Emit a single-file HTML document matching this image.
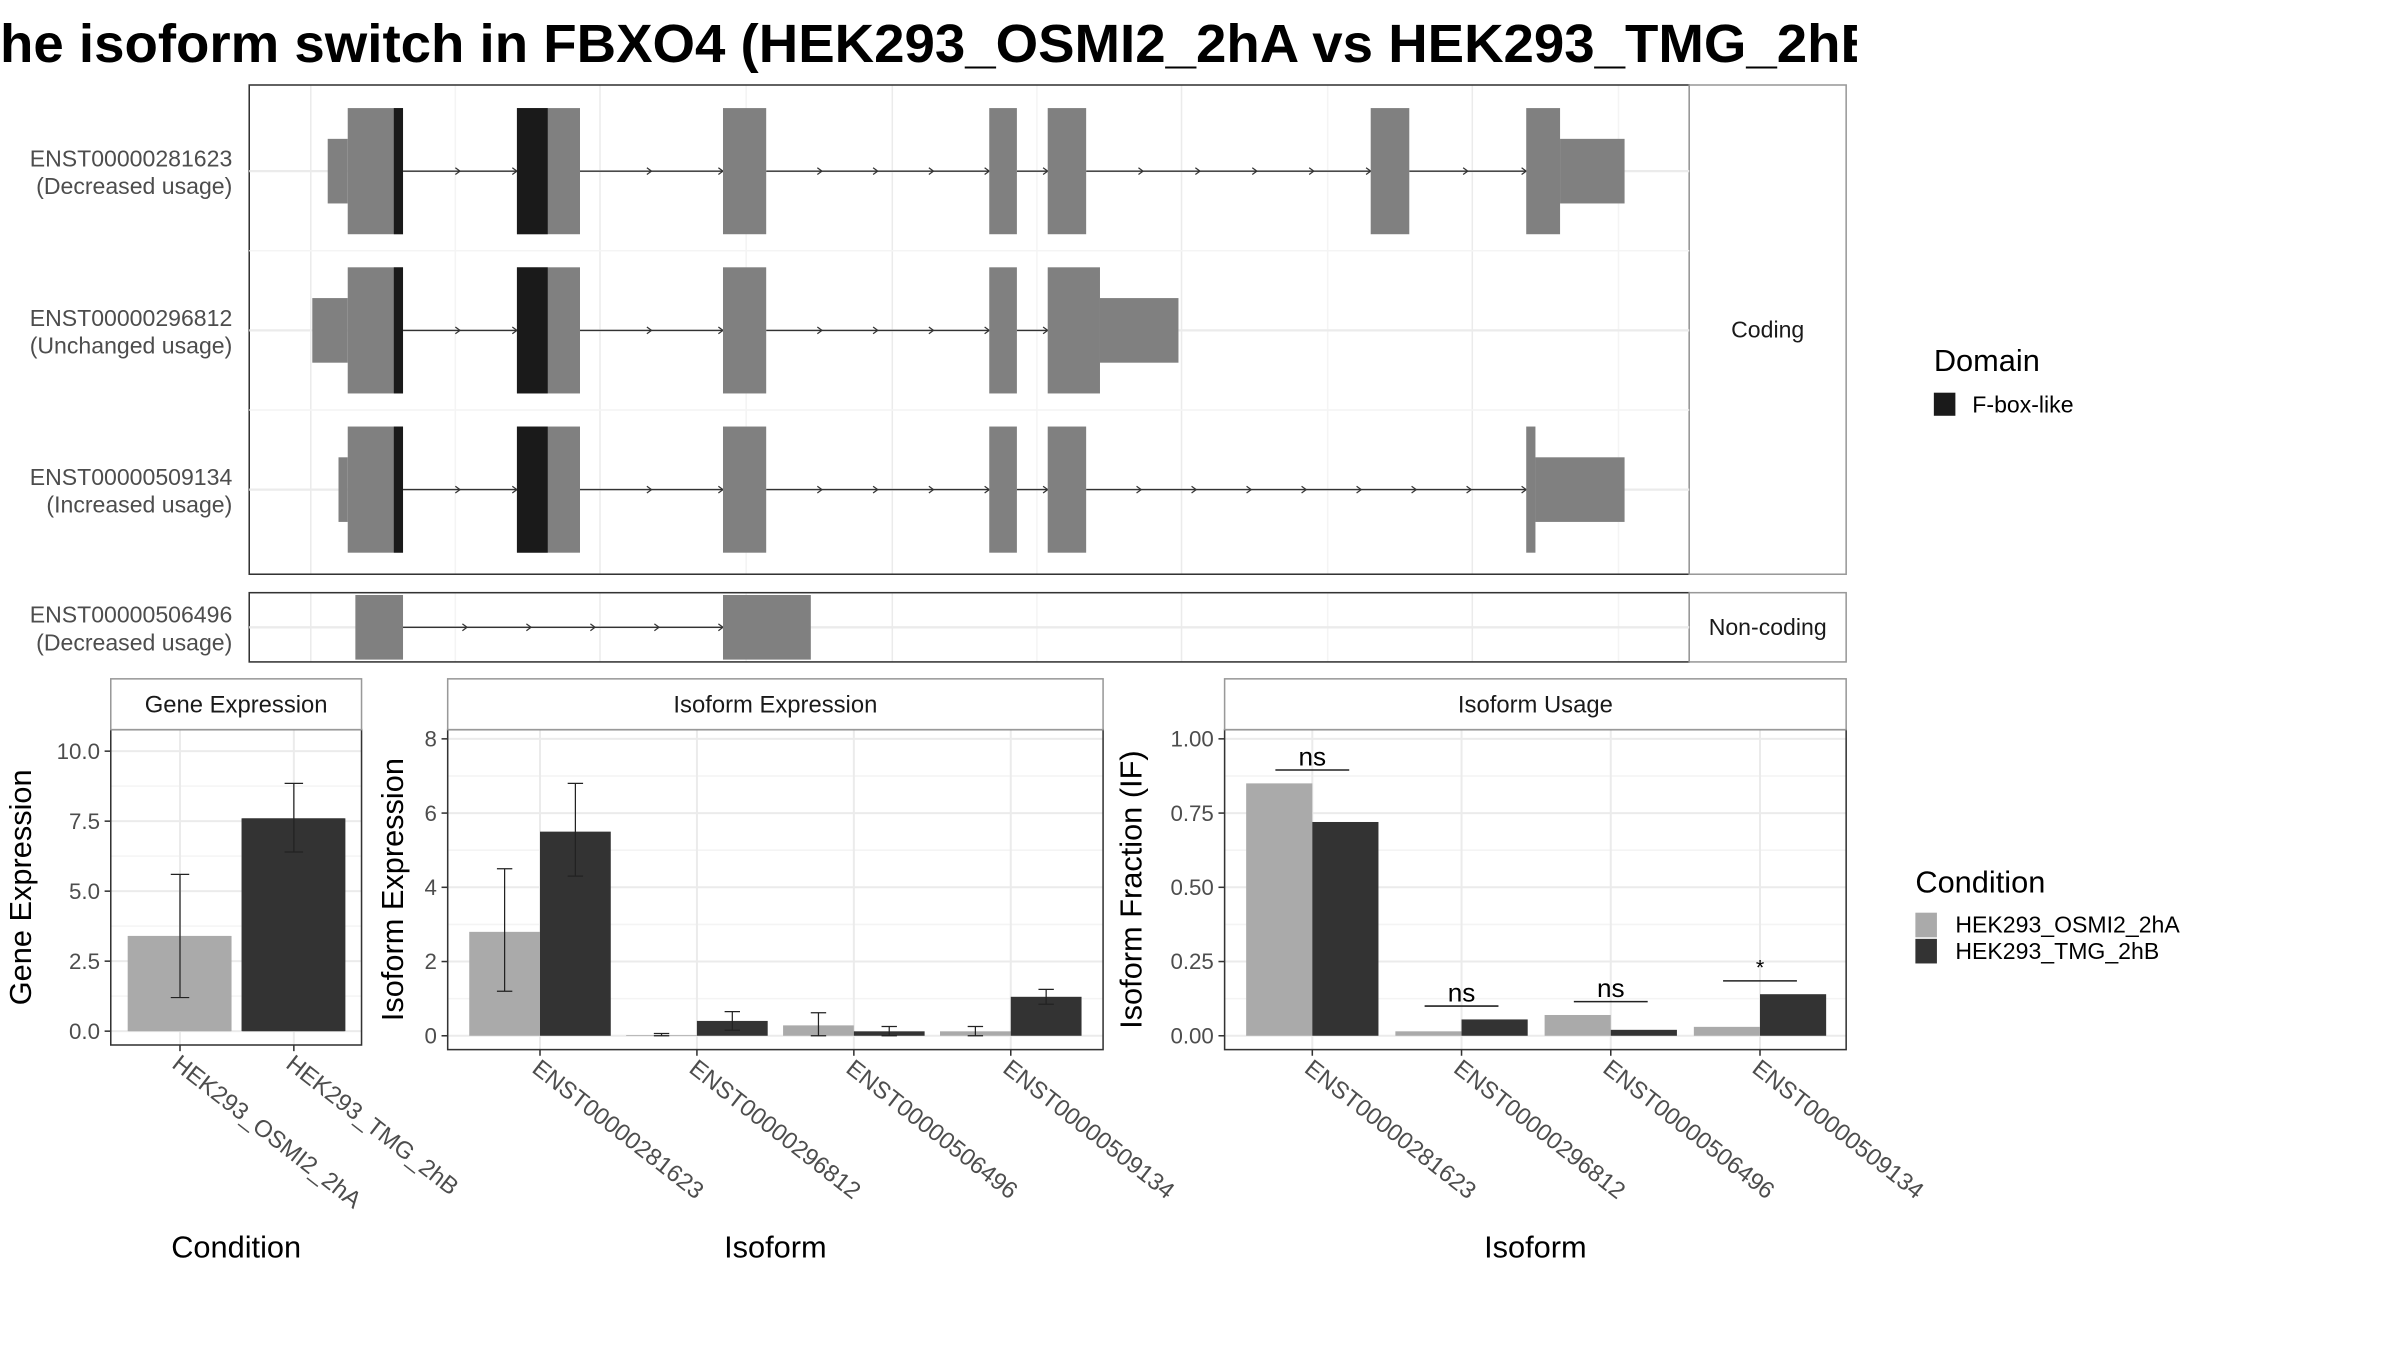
<!DOCTYPE html>
<html><head><meta charset="utf-8"><style>
html,body{margin:0;padding:0;background:#fff;}
svg{display:block;font-family:"Liberation Sans",Arial,sans-serif;}
</style></head><body>
<svg id="chart" width="2400" height="1350" viewBox="0 0 1560 877" xmlns="http://www.w3.org/2000/svg">
<defs><clipPath id="titleclip"><rect x="0" y="0" width="1207" height="60"/></clipPath></defs>
<rect x="0" y="0" width="1560" height="877" fill="#fff"/>
<text x="0" y="40" font-size="35" font-weight="bold" fill="#000" clip-path="url(#titleclip)" textLength="1222" lengthAdjust="spacingAndGlyphs">he isoform switch in FBXO4 (HEK293_OSMI2_2hA vs HEK293_TMG_2hB</text>
</svg>
<script>
// ---------- transcript structure data (genomic units) ----------
const txNames = ["ENST00000281623","ENST00000296812","ENST00000509134"];
const txUsage = ["(Decreased usage)","(Unchanged usage)","(Increased usage)"];
const txExons = [
  [[54.5,68.4,"utr"],[68.4,106.8,"cds"],[185.9,229.7,"cds"],[329,359,"cds"],[513.9,533.1,"cds"],[554.5,581.2,"cds"],[778.8,805.6,"cds"],[886.8,910.3,"cds"],[910.3,955.1,"utr"]],
  [[43.8,68.4,"utr"],[68.4,106.8,"cds"],[185.9,229.7,"cds"],[329,359,"cds"],[513.9,533.1,"cds"],[554.5,590.8,"cds"],[590.8,645.3,"utr"]],
  [[62,68.4,"utr"],[68.4,106.8,"cds"],[185.9,229.7,"cds"],[329,359,"cds"],[513.9,533.1,"cds"],[554.5,581.2,"cds"],[886.8,893.2,"cds"],[893.2,955.1,"utr"]]
];
const txDomains = [
  [[100.4,106.8],[185.9,207.3]],
  [[100.4,106.8],[185.9,207.3]],
  [[100.4,106.8],[185.9,207.3]]
];
const ncName = "ENST00000506496";
const ncUsage = "(Decreased usage)";
const ncExons = [[73.7,106.8],[329,390]];

// ---------- bar chart data ----------
const conditions = ["HEK293_OSMI2_2hA","HEK293_TMG_2hB"];
const geneExpr = [3.4, 7.6];
const geneLo = [1.2, 6.4];
const geneHi = [5.6, 8.85];
const geneTicks = ["0.0","2.5","5.0","7.5","10.0"];

const isoforms = ["ENST00000281623","ENST00000296812","ENST00000506496","ENST00000509134"];
const isoExprA = [2.8, 0.02, 0.28, 0.12];
const isoExprB = [5.5, 0.4, 0.12, 1.05];
const isoLoA = [1.2, 0.0, 0.0, 0.0];
const isoHiA = [4.5, 0.06, 0.62, 0.25];
const isoLoB = [4.3, 0.15, 0.0, 0.85];
const isoHiB = [6.8, 0.65, 0.25, 1.25];
const isoTicks = ["0","2","4","6","8"];

const usageA = [0.85, 0.015, 0.07, 0.03];
const usageB = [0.72, 0.055, 0.02, 0.14];
const sigLabels = ["ns","ns","ns","*"];
const sigLevel = [0.895, 0.1, 0.115, 0.185];
const usageTicks = ["0.00","0.25","0.50","0.75","1.00"];

const svg = document.getElementById('chart');
const NS = "http://www.w3.org/2000/svg";
function mk(tag, attrs, parent){
  const e = document.createElementNS(NS, tag);
  for (const k in attrs) e.setAttribute(k, attrs[k]);
  (parent||svg).appendChild(e);
  return e;
}
function txt(s, attrs, parent){ const e = mk('text', attrs, parent); e.textContent = s; return e; }

const LIGHT = "#AAAAAA", DARK = "#333333", GRID="#EBEBEB", MINOR="#F4F4F4";

// ---------- transcript panels ----------
const gx = u => 162 + u*0.936;
const gridXs = [202,296,390,485,580,674,768,863,957,1052];

function structPanel(y0, y1, label, name){
  const g = mk('g', {});
  
  
  for (let i=0;i<gridXs.length;i++){
    const l = mk('line',{x1:gridXs[i],x2:gridXs[i],y1:y0,y2:y1,stroke:i%2?MINOR:GRID,'stroke-width':1},g);
    
    
  }
  const r = mk('rect',{x:162,y:y0,width:936,height:y1-y0,fill:'none',stroke:'#333','stroke-width':1},g);
  
  
  const s = mk('rect',{x:1098,y:y0,width:102,height:y1-y0,fill:'#fff',stroke:'#999','stroke-width':1},g);
  
  
  const t = txt(label,{x:1149,y:(y0+y1)/2+5,'font-size':15,'text-anchor':'middle',fill:'#1a1a1a'},g);
  
  
  return g;
}
function drawTx(g, cy, exons, domains, name, usage, tall, short){
  const hl = mk('line',{x1:162,x2:1098,y1:cy,y2:cy,stroke:GRID,'stroke-width':1.5},g);
  
  
  // introns
  for (let i=0;i<exons.length-1;i++){
    const a = gx(exons[i][1]), b = gx(exons[i+1][0]);
    if (b-a < 2) continue;
    const ln = mk('line',{x1:a,x2:b,y1:cy,y2:cy,stroke:'#333','stroke-width':0.9},g);
    
    
    const n = Math.max(1, Math.round((b-a)/38));
    for (let k=1;k<=n;k++){
      const ax = a + (b-a)*k/n - (k===n?0:0);
      const ar = mk('path',{d:`M${ax-3},${cy-2.2} L${ax},${cy} L${ax-3},${cy+2.2}`,fill:'none',stroke:'#333','stroke-width':0.8},g);
      
      
    }
  }
  for (const ex of exons){
    const h = ex[2]==='utr' ? short : tall;
    const r = mk('rect',{x:gx(ex[0]),y:cy-h,width:gx(ex[1])-gx(ex[0]),height:2*h,fill:'#808080'},g);
    
    
  }
  for (const d of domains){
    const r = mk('rect',{x:gx(d[0]),y:cy-tall,width:gx(d[1])-gx(d[0]),height:2*tall,fill:'#1a1a1a'},g);
    
    
  }
  const t1 = txt(name,{x:151,y:cy-3,'font-size':15,'text-anchor':'end',fill:'#4d4d4d'});
  
  
  const t2 = txt(usage,{x:151,y:cy+15,'font-size':15,'text-anchor':'end',fill:'#4d4d4d'});
  
  
}
const codingG = structPanel(55,373,'Coding','coding-panel');
const rowCy = [111,214.5,318];
for (let i=0;i<txNames.length;i++){
  if (i>0){ const sep = mk('line',{x1:162,x2:1098,y1:(rowCy[i-1]+rowCy[i])/2,y2:(rowCy[i-1]+rowCy[i])/2,stroke:MINOR,'stroke-width':1},codingG);
    
     }
  drawTx(codingG,rowCy[i],txExons[i],txDomains[i],txNames[i],txUsage[i],41,21);
}
const ncG = structPanel(385,430,'Non-coding','noncoding-panel');
drawTx(ncG,407.5,ncExons.map(e=>[e[0],e[1],'cds']),[],ncName,ncUsage,21,21);

// domain legend
{
  const t = txt('Domain',{x:1257,y:241,'font-size':20,fill:'#000'});
  
  
  const k = mk('rect',{x:1257,y:255,width:14,height:15,fill:'#1a1a1a'});
  
  
  const l = txt('F-box-like',{x:1282,y:268,'font-size':15,fill:'#000'});
  
  
}

// ---------- bar panels ----------
function barPanel(o){
  const g = mk('g',{});
  
  
  const y = v => o.y0 - (v/o.vmax)*(o.y0 - o.yTop);
  // minor grid
  for (let i=0;i<o.ticks.length-1;i++){
    const v = (parseFloat(o.ticks[i])+parseFloat(o.ticks[i+1]))/2;
    const l = mk('line',{x1:o.x0,x2:o.x1,y1:y(v),y2:y(v),stroke:MINOR,'stroke-width':1},g);
    
    
  }
  for (const tk of o.ticks){
    const yy = y(parseFloat(tk));
    const l = mk('line',{x1:o.x0,x2:o.x1,y1:yy,y2:yy,stroke:GRID,'stroke-width':1.3},g);
    
    
    const tm = mk('line',{x1:o.x0-4,x2:o.x0,y1:yy,y2:yy,stroke:'#333','stroke-width':1},g);
    
    
    const t = txt(tk,{x:o.x0-7,y:yy+5,'font-size':14.5,'text-anchor':'end',fill:'#4d4d4d'},g);
    
    
  }
  const cx = i => o.cx0 + i*o.step;
  for (let i=0;i<o.cats.length;i++){
    const l = mk('line',{x1:cx(i),x2:cx(i),y1:o.top,y2:o.bottom,stroke:GRID,'stroke-width':1.3},g);
    
    
  }
  for (let i=0;i<o.cats.length;i++){
    for (let s=0;s<o.series.length;s++){
      const v = o.series[s][i];
      const bx = o.paired ? cx(i) + (s===0 ? -o.bw : 0) : cx(i) - o.bw/2;
      const r = mk('rect',{x:bx,y:y(v),width:o.bw,height:y(0)-y(v),fill:o.colors[s]},g);
      
      
      if (o.lo){
        const ex = bx + o.bw/2;
        const lo = y(o.lo[s][i]), hi = y(o.hi[s][i]);
        const e = mk('path',{d:`M${ex},${lo} V${hi} M${ex-5},${lo} H${ex+5} M${ex-5},${hi} H${ex+5}`,stroke:'#222','stroke-width':0.8,fill:'none'},g);
        
        
      }
    }
  }
  if (o.sig){
    for (let i=0;i<o.cats.length;i++){
      const yy = y(o.sigLevel[i]);
      const l = mk('line',{x1:cx(i)-24,x2:cx(i)+24,y1:yy,y2:yy,stroke:'#222','stroke-width':1},g);
      
      
      const t = txt(o.sig[i],{x:cx(i),y:o.sig[i]==='*'?yy-4:yy-3,'font-size':o.sig[i]==='*'?14:17,'text-anchor':'middle',fill:'#000'},g);
      
      
    }
  }
  const pb = mk('rect',{x:o.x0,y:o.top,width:o.x1-o.x0,height:o.bottom-o.top,fill:'none',stroke:'#333','stroke-width':1},g);
  
  
  const st = mk('rect',{x:o.x0,y:441,width:o.x1-o.x0,height:o.top-441,fill:'#fff',stroke:'#999','stroke-width':1},g);
  
  
  const stt = txt(o.title,{x:(o.x0+o.x1)/2,y:463,'font-size':15.5,'text-anchor':'middle',fill:'#1a1a1a'},g);
  
  
  for (let i=0;i<o.cats.length;i++){
    const tm = mk('line',{x1:cx(i),x2:cx(i),y1:o.bottom,y2:o.bottom+4,stroke:'#333','stroke-width':1},g);
    
    
    const t = txt(o.cats[i],{x:0,y:0,'font-size':15.5,fill:'#4d4d4d',transform:`translate(${cx(i)-6},${o.bottom+14}) rotate(38)`},g);
    
    
  }
  const yt = txt(o.ytitle,{x:0,y:0,'font-size':20,'text-anchor':'middle',fill:'#000',transform:`translate(${o.ytx},${(o.top+o.bottom)/2}) rotate(-90)`},g);
  
  
  const xt = txt(o.xtitle,{x:(o.x0+o.x1)/2,y:817,'font-size':20,'text-anchor':'middle',fill:'#000'},g);
  
  
}

barPanel({name:'gene-expression-panel',title:'Gene Expression',x0:72,x1:235,top:474,bottom:679,y0:670,yTop:488,vmax:10,
  ticks:geneTicks,cats:conditions,cx0:117,step:74,bw:67,paired:false,series:[[geneExpr[0],0],[0,geneExpr[1]]].map((r,s)=>r),
  colors:[LIGHT,DARK],lo:null,ytitle:'Gene Expression',ytx:20,xtitle:'Condition'});
</script>
<script>
// gene expression bars drawn individually (one bar per condition)
(function(){
  const y = v => 670 - (v/10)*(670-488);
  const xs = [117,191];
  for (let i=0;i<conditions.length;i++){
    const r = document.createElementNS("http://www.w3.org/2000/svg",'rect');
    r.setAttribute('x', xs[i]-34); r.setAttribute('y', y(geneExpr[i]));
    r.setAttribute('width', 67); r.setAttribute('height', y(0)-y(geneExpr[i]));
    r.setAttribute('fill', i===0?"#AAAAAA":"#333333");
    
    
    svg.appendChild(r);
    const e = document.createElementNS("http://www.w3.org/2000/svg",'path');
    const lo=y(geneLo[i]), hi=y(geneHi[i]);
    e.setAttribute('d',`M${xs[i]},${lo} V${hi} M${xs[i]-6},${lo} H${xs[i]+6} M${xs[i]-6},${hi} H${xs[i]+6}`);
    e.setAttribute('stroke','#222'); e.setAttribute('stroke-width','0.8'); e.setAttribute('fill','none');
    
    
    svg.appendChild(e);
  }
})();
</script>
<script>
barPanel({name:'isoform-expression-panel',title:'Isoform Expression',x0:291,x1:717,top:474,bottom:682,y0:673,yTop:480,vmax:8,
  ticks:isoTicks,cats:isoforms,cx0:351,step:102,bw:46,paired:true,series:[isoExprA,isoExprB],colors:[LIGHT,DARK],
  lo:[isoLoA,isoLoB],hi:[isoHiA,isoHiB],ytitle:'Isoform Expression',ytx:262,xtitle:'Isoform'});
barPanel({name:'isoform-usage-panel',title:'Isoform Usage',x0:796,x1:1200,top:474,bottom:682,y0:673,yTop:480,vmax:1,
  ticks:usageTicks,cats:isoforms,cx0:853,step:97,bw:43,paired:true,series:[usageA,usageB],colors:[LIGHT,DARK],
  lo:null,sig:sigLabels,sigLevel:sigLevel,ytitle:'Isoform Fraction (IF)',ytx:742,xtitle:'Isoform'});
// condition legend
{
  const t = txt('Condition',{x:1245,y:580,'font-size':20,fill:'#000'});
  
  
  const cols = [LIGHT,DARK];
  for (let i=0;i<conditions.length;i++){
    const k = mk('rect',{x:1245,y:593+i*17,width:14,height:16,fill:cols[i]});
    
    
    const l = txt(conditions[i],{x:1271,y:606+i*17,'font-size':15,fill:'#000'});
    
    
  }
}
</script>
</body></html>
